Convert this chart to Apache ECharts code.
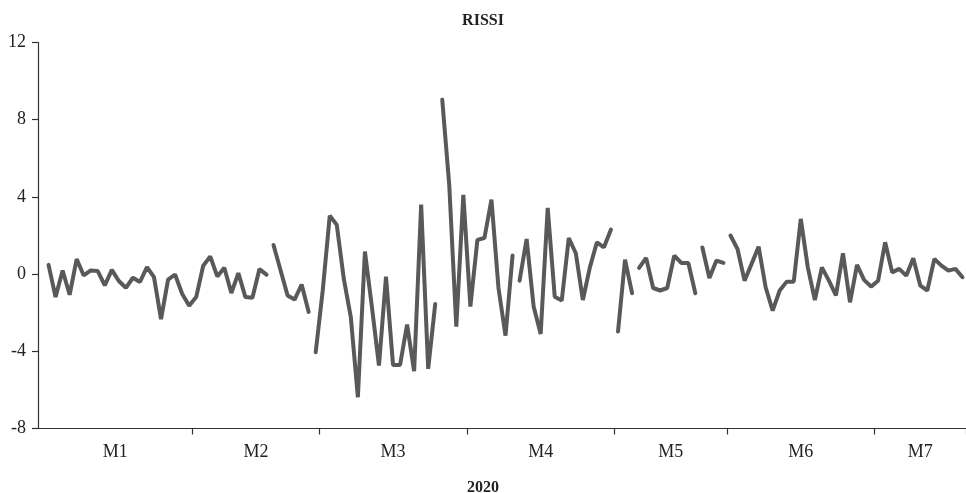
<!DOCTYPE html>
<html>
<head>
<meta charset="utf-8">
<script src="https://cdn.jsdelivr.net/npm/echarts@6/dist/echarts.min.js"></script>
<style>html,body{margin:0;padding:0;background:#fff}#c{width:966px;height:493px}</style>
</head>
<body>
<div id="c"></div>
<script>
// Daily RISSI values (index 0 is an empty day at the start of the axis)
const values = [null,
 0.48,-1.19,0.19,-1.07,0.78,-0.07,0.19,0.16,-0.59,0.22,
 -0.36,-0.71,-0.19,-0.41,0.36,-0.16,-2.33,-0.29,-0.02,-1.02,
 -1.64,-1.19,0.43,0.92,-0.12,0.33,-0.98,0.05,-1.19,-1.23,
 0.26,-0.03,1.51,0.2,-1.11,-1.32,-0.54,-1.96,-4.05,-0.85,
 3.03,2.55,-0.25,-2.24,-6.38,1.17,-1.72,-4.74,-0.13,-4.71,
 -4.71,-2.62,-5.03,3.6,-4.91,-1.55,9.04,4.59,-2.72,4.1,
 -1.68,1.77,1.87,3.86,-0.72,-3.19,0.96,-0.34,1.82,-1.68,
 -3.1,3.43,-1.17,-1.37,1.87,1.08,-1.34,0.35,1.65,1.39,
 2.31,-2.98,0.75,-0.99,0.32,0.84,-0.72,-0.85,-0.72,0.96,
 0.58,0.58,-0.99,1.38,-0.2,0.70,0.58,2.0,1.3,-0.34,
 0.53,1.42,-0.68,-1.89,-0.85,-0.39,-0.39,2.86,0.35,-1.34,
 0.35,-0.34,-1.1,1.08,-1.46,0.48,-0.30,-0.65,-0.34,1.65,
 0.09,0.27,-0.08,0.82,-0.60,-0.85,0.79,0.44,0.18,0.27,
 -0.16];
// line breaks after these indices
const breaksAfter = [32, 38, 56, 67, 81, 84, 93, 97];
// months
const monthLabels = ['M1','M2','M3','M4','M5','M6','M7'];
const monthStart = [0, 22, 40, 61, 82, 98, 119];
const yTicks = [-8, -4, 0, 4, 8, 12];
const titleText = 'RISSI';
const yearText = '2020';

const N = values.length;
const cats = values.map((v, i) => String(i));
const tickSet = new Set(monthStart.slice(1));
const labelAt = {};
monthStart.forEach((s, k) => {
  const e = k + 1 < monthStart.length ? monthStart[k + 1] : N;
  const mid = (s + e - 1) / 2;
  labelAt[Math.floor(mid)] = { text: monthLabels[k], half: mid % 1 !== 0 };
});

// segments
const bounds = [0].concat(breaksAfter.map(b => b + 1)).concat([N]);
const series = [];
for (let s = 0; s < bounds.length - 1; s++) {
  const a = bounds[s], b = bounds[s + 1];
  series.push({
    type: 'line',
    data: values.map((v, i) => (i >= a && i < b) ? v : null),
    showSymbol: false,
    symbol: 'none',
    connectNulls: false,
    silent: true,
    animation: false,
    lineStyle: { color: '#58595b', width: 4, cap: 'round' }
  });
}

const font = '"Liberation Serif", "DejaVu Serif", serif';
const chart = echarts.init(document.getElementById('c'), null, { renderer: 'canvas' });
chart.setOption({
  animation: false,
  backgroundColor: '#fff',
  title: [
    { text: titleText, left: 'center', top: 8,
      textStyle: { fontFamily: font, fontSize: 16, fontWeight: 'bold', color: '#222' } },
    { text: yearText, left: 'center', top: 475,
      textStyle: { fontFamily: font, fontSize: 16, fontWeight: 'bold', color: '#222' } }
  ],
  grid: { left: 38, top: 42.5, width: 930, height: 386 },
  xAxis: {
    type: 'category',
    data: cats,
    boundaryGap: true,
    axisLine: { show: true, onZero: false, lineStyle: { color: '#333', width: 1.2 } },
    axisTick: { show: true, length: 6, interval: (i) => tickSet.has(i),
      lineStyle: { color: '#333', width: 1.2 } },
    axisLabel: {
      interval: (i) => labelAt[i] !== undefined,
      margin: 15,
      fontFamily: font, fontSize: 18, color: '#222',
      formatter: (v, i) => {
        const L = labelAt[i];
        if (!L) return '';
        return L.half ? '{s|' + L.text + '}' : '{n|' + L.text + '}';
      },
      rich: {
        s: { fontFamily: font, fontSize: 18, color: '#222', padding: [0, 0, 0, 7] },
        n: { fontFamily: font, fontSize: 18, color: '#222' }
      }
    },
    splitLine: { show: false }
  },
  yAxis: {
    type: 'value',
    min: yTicks[0], max: yTicks[yTicks.length - 1], interval: 4,
    axisLine: { show: true, lineStyle: { color: '#333', width: 1.2 } },
    axisTick: { show: true, length: 6, lineStyle: { color: '#333', width: 1.2 } },
    axisLabel: { fontFamily: font, fontSize: 18, color: '#222', margin: 12 },
    splitLine: { show: false }
  },
  series: series
});
</script>
</body>
</html>
